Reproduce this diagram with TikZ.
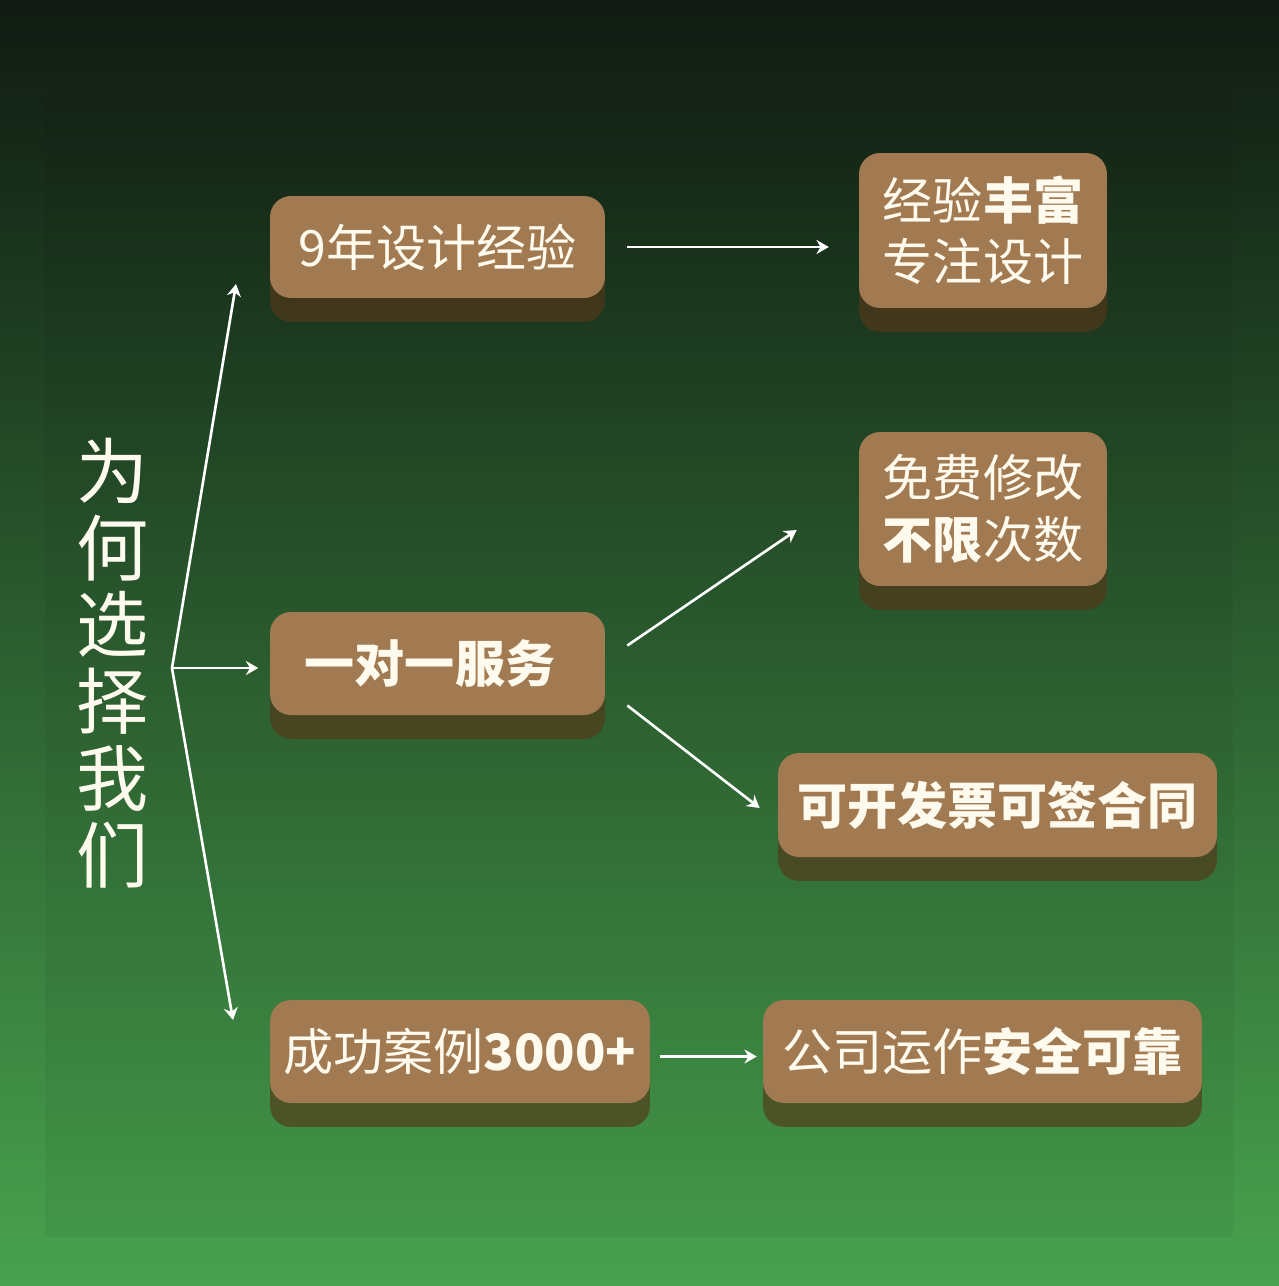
\documentclass[tikz,border=0pt]{standalone}
\usepackage{fontspec}
\setmainfont{Noto Sans CJK SC}
\usetikzlibrary{calc,shadows,arrows.meta}

\definecolor{bgtop}{RGB}{16,26,18}
\definecolor{bgmid}{RGB}{40,92,47}
\definecolor{bgbot}{RGB}{72,162,78}
\definecolor{cardfill}{RGB}{161,122,82}
\definecolor{cardshade}{RGB}{85,55,25}
\definecolor{cardtext}{RGB}{255,250,238}

\begin{document}
\begin{tikzpicture}[x=0.02cm, y=-0.02cm, >={Stealth[length=7pt, width=8pt]},
    card/.style={fill=cardfill, rounded corners=0.42cm, inner sep=0pt, align=center,
        text=cardtext, font=\fontsize{28.5}{35}\selectfont,
        drop shadow={shadow xshift=0pt, shadow yshift=-13.6pt, fill=cardshade, opacity=0.65}},
    link/.style={->, draw=white, line width=1.5pt}]
    % background
    \shade[top color=bgtop, middle color=bgmid, bottom color=bgbot] (0,0) rectangle (1279,1286);
    \fill[black, opacity=0.04] (45,95) rectangle (1233,1237);
    \useasboundingbox (0,0) rectangle (1279,1286);

    % title
    \node[align=center, text=cardtext, font=\fontsize{41}{43.7}\selectfont] (title) at (113,663)
        {为\\何\\选\\择\\我\\们};

    % boxes
    \node[card, minimum width=6.7cm, minimum height=2.04cm] (exp) at (437.5,247) {9年设计经验};
    \node[card, minimum width=4.96cm, minimum height=3.1cm] (rich) at (983,230.5) {经验\textbf{丰富}\\专注设计};
    \node[card, minimum width=4.96cm, minimum height=3.08cm] (free) at (983,509) {免费修改\\\textbf{不限}次数};
    \node[card, minimum width=6.7cm, minimum height=2.06cm] (one) at (437.5,663.5) {\textbf{一对一服务}\hspace*{0.3cm}};
    \node[card, minimum width=8.78cm, minimum height=2.08cm] (bill) at (997.5,805) {\textbf{可开发票可签合同}};
    \node[card, minimum width=7.6cm, minimum height=2.06cm] (cases) at (460,1051.5) {成功案例\textbf{3000+}};
    \node[card, minimum width=8.78cm, minimum height=2.06cm] (safe) at (982.5,1051.5) {公司运作\textbf{安全可靠}};

    % fan out of the title
    \coordinate (fan) at (172,668);
    \coordinate (up) at (236,284);
    \coordinate (down) at (233,1020);
    \draw[link] (fan) -- (up);
    \draw[link, shorten >=6.5pt] (fan) -- (fan -| one.west);
    \draw[link] (fan) -- (down);

    % to the right column
    \draw[link, shorten <=12.5pt, shorten >=17pt] (exp.east) -- (exp.east -| rich.west);
    \draw[link] ($(one.east)+(22,-18)$) -- ($(free.west)+(-62,21)$);
    \draw[link] ($(one.east)+(22,42)$) -- ($(bill.west)+(-18,3)$);
    \draw[link, shorten <=5.7pt, shorten >=3.4pt] ($(cases.east)+(0,5)$) -- ($(safe.west)+(0,5)$);
\end{tikzpicture}
\end{document}
